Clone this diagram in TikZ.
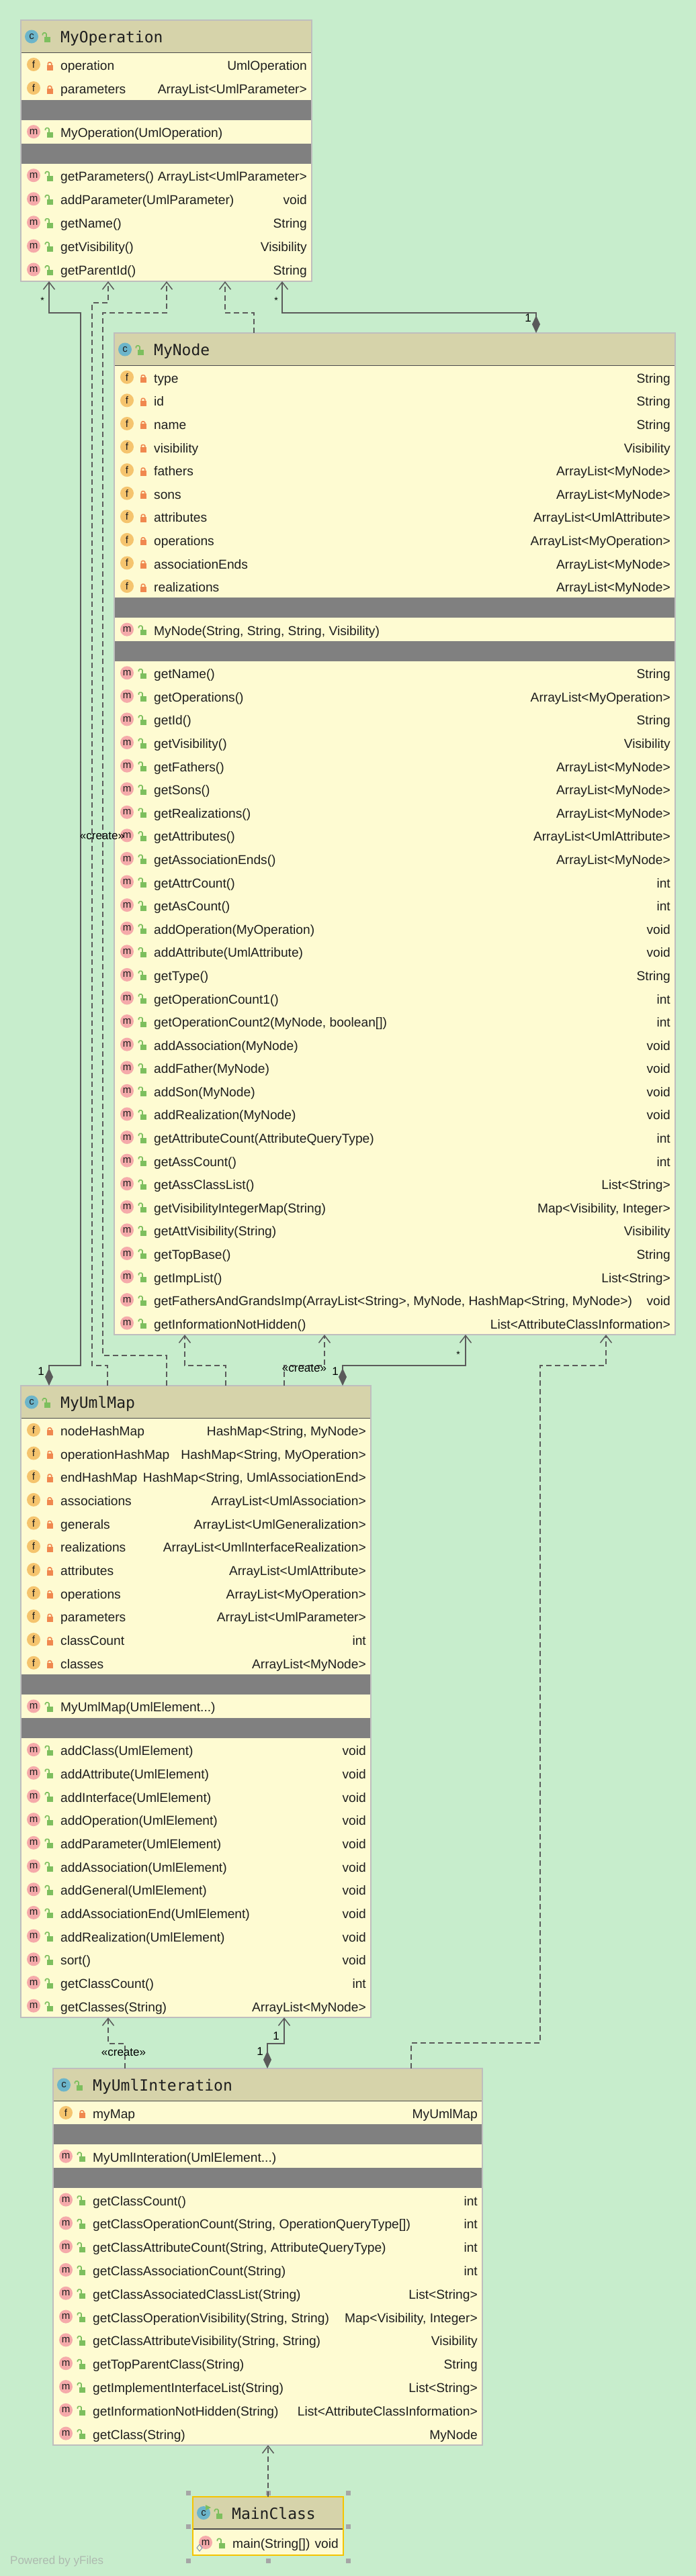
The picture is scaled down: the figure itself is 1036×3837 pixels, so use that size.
\documentclass[tikz,border=0pt]{standalone}
\usepackage{fontspec}
\setmainfont{Liberation Sans}
\newfontfamily\monofont{DejaVu Sans Mono}
\usepackage{tikz}
\usetikzlibrary{arrows.meta}
\definecolor{bg}{HTML}{C7EDCC}
\definecolor{clshead}{HTML}{D6D3AA}
\definecolor{clsbody}{HTML}{FEFBD2}
\definecolor{clsband}{HTML}{808080}
\definecolor{clsframe}{HTML}{BEBEBE}
\definecolor{clsrule}{HTML}{4A4A4A}
\definecolor{wire}{HTML}{5A5A5A}
\definecolor{fball}{HTML}{F5C46E}
\definecolor{mball}{HTML}{F5AAAA}
\definecolor{cball}{HTML}{6CB5CA}
\definecolor{lockred}{HTML}{F0884F}
\definecolor{lockgreen}{HTML}{7DBF5E}
\definecolor{ink}{HTML}{1E1E1E}
\definecolor{pick}{HTML}{F5C400}
\definecolor{grip}{HTML}{A6A6A6}
\definecolor{faint}{HTML}{AEBAB0}
\definecolor{staticc}{HTML}{8193B5}
\tikzset{
  classbox/.style={rectangle, fill=clsbody, inner sep=0, outer sep=0},
  frame/.style={draw=clsframe, line width=2pt},
  pickframe/.style={draw=pick, line width=2.5pt},
  clsline/.style={draw=clsrule, line width=1.5pt},
  band/.style={fill=clsband},
  clstitle/.style={inner sep=0, text=ink, font=\monofont\fontsize{23}{26}\selectfont},
  rowtxt/.style={inner sep=0, text=ink, font=\fontsize{19.2}{22}\selectfont},
  ball/.style={circle, inner sep=0, minimum size=20pt, text=ink, font=\fontsize{15}{15}\selectfont},
  dep/.style={draw=wire, line width=1.5pt, dash pattern=on 8pt off 5pt, arrows={-Straight Barb[length=11pt,width=17pt]}},
  comp/.style={draw=wire, line width=1.5pt, arrows={Diamond[length=26pt,width=12pt]-Straight Barb[length=11pt,width=17pt]}},
  elab/.style={inner sep=0, text=black, font=\fontsize{17}{17}\selectfont},
  star/.style={elab, font=\fontsize{14}{14}\selectfont},
  lockpriv/.pic={
    \draw[lockred, line width=1.6pt, rounded corners=1.5pt] (-2.7,1) -- (-2.7,-3) -- (2.7,-3) -- (2.7,1);
    \fill[lockred] (-4.5,0.5) rectangle (4.5,8.5);
  },
  lockpub/.pic={
    \draw[lockgreen, line width=1.6pt, rounded corners=1.5pt] (-1,1) -- (-1,-5.5) -- (-6.5,-5.5) -- (-6.5,-2);
    \fill[lockgreen] (-4,0.5) rectangle (5,8.5);
  },
  iconf/.pic={\node[ball, fill=fball] {f}; \pic at (24,0) {lockpriv};},
  iconm/.pic={\node[ball, fill=mball] {m}; \pic at (24,0) {lockpub};},
}
% one member line: name, left, right, row centre, icon, text, type
\newcommand\umlrow[7]{%
  \pgfmathsetmacro\rowy{#4}
  \pic at (#2+19,\rowy) {#5};
  \node[rowtxt, anchor=base west] (#1-a) at (#2+59,\rowy+8.5) {#6};
  \node[rowtxt, anchor=base east] (#1-b) at (#3-7,\rowy+8.5) {#7};
}
% one class: name, left, top, right, bottom, title, fields, constructor, methods
\newcommand\umlclass[9]{%
  \node[classbox, minimum width=#4-#2, minimum height=#5-#3, anchor=north west] (#1) at (#2,#3) {};
  \fill[clshead] (#2,#3) rectangle (#4,#3+48.5);
  \node[ball, fill=cball] (#1-c) at (#2+16,#3+24.5) {c};
  \pic at (#2+39,#3+24.5) {lockpub};
  \node[clstitle, anchor=base west] (#1-title) at (#2+59,#3+33) {#6};
  \foreach \itm [count=\idx] in {#7}{\xdef\nfld{\idx}}
  \foreach \itm [count=\idx] in {#9}{\xdef\nmth{\idx}}
  \pgfmathsetmacro\rowh{(#5-#3-108.5)/(\nfld+\nmth+1)}
  \pgfmathsetmacro\banda{#3+48.5+\nfld*\rowh}
  \pgfmathsetmacro\bandb{\banda+30+\rowh}
  \foreach \mname/\mtype [count=\idx from 0] in {#7}
    {\umlrow{#1-f\idx}{#2}{#4}{#3+48.5+(\idx+0.5)*\rowh}{iconf}{\mname}{\mtype}}
  \fill[band] (#2,\banda) rectangle (#4,\banda+30);
  \umlrow{#1-k}{#2}{#4}{\banda+30+0.5*\rowh}{iconm}{#8}{}
  \fill[band] (#2,\bandb) rectangle (#4,\bandb+30);
  \foreach \mname/\mtype [count=\idx from 0] in {#9}
    {\umlrow{#1-m\idx}{#2}{#4}{\bandb+30+(\idx+0.5)*\rowh}{iconm}{\mname}{\mtype}}
  \draw[clsline] (#2,#3+48.5) -- (#4,#3+48.5);
  \draw[frame] (#1.north west) rectangle (#1.south east);
}
\begin{document}
\begin{tikzpicture}[x=1pt,y=-1pt]
  \fill[bg] (0,0) rectangle (1036,3837);
  \useasboundingbox (0,0) rectangle (1036,3837);

  \umlclass{op}{31}{30}{464}{419}{MyOperation}
    {operation/UmlOperation, parameters/{ArrayList<UmlParameter>}}
    {MyOperation(UmlOperation)}
    {getParameters()/{ArrayList<UmlParameter>}, addParameter(UmlParameter)/void,
     getName()/String, getVisibility()/Visibility, getParentId()/String}

  \umlclass{mnode}{170}{496}{1005}{1988}{MyNode}
    {type/String, id/String, name/String, visibility/Visibility,
     fathers/{ArrayList<MyNode>}, sons/{ArrayList<MyNode>},
     attributes/{ArrayList<UmlAttribute>}, operations/{ArrayList<MyOperation>},
     associationEnds/{ArrayList<MyNode>}, realizations/{ArrayList<MyNode>}}
    {MyNode(String, String, String, Visibility)}
    {getName()/String, getOperations()/{ArrayList<MyOperation>}, getId()/String,
     getVisibility()/Visibility, getFathers()/{ArrayList<MyNode>},
     getSons()/{ArrayList<MyNode>}, getRealizations()/{ArrayList<MyNode>},
     getAttributes()/{ArrayList<UmlAttribute>}, getAssociationEnds()/{ArrayList<MyNode>},
     getAttrCount()/int, getAsCount()/int, addOperation(MyOperation)/void,
     addAttribute(UmlAttribute)/void, getType()/String, getOperationCount1()/int,
     {getOperationCount2(MyNode, boolean[])}/int, addAssociation(MyNode)/void,
     addFather(MyNode)/void, addSon(MyNode)/void, addRealization(MyNode)/void,
     getAttributeCount(AttributeQueryType)/int, getAssCount()/int,
     getAssClassList()/{List<String>}, getVisibilityIntegerMap(String)/{Map<Visibility, Integer>},
     getAttVisibility(String)/Visibility, getTopBase()/String, getImpList()/{List<String>},
     {getFathersAndGrandsImp(ArrayList<String>, MyNode, HashMap<String, MyNode>)}/void,
     getInformationNotHidden()/{List<AttributeClassInformation>}}

  \umlclass{umap}{31}{2064}{552}{3005}{MyUmlMap}
    {nodeHashMap/{HashMap<String, MyNode>}, operationHashMap/{HashMap<String, MyOperation>},
     endHashMap/{HashMap<String, UmlAssociationEnd>}, associations/{ArrayList<UmlAssociation>},
     generals/{ArrayList<UmlGeneralization>}, realizations/{ArrayList<UmlInterfaceRealization>},
     attributes/{ArrayList<UmlAttribute>}, operations/{ArrayList<MyOperation>},
     parameters/{ArrayList<UmlParameter>}, classCount/int, classes/{ArrayList<MyNode>}}
    {MyUmlMap(UmlElement...)}
    {addClass(UmlElement)/void, addAttribute(UmlElement)/void, addInterface(UmlElement)/void,
     addOperation(UmlElement)/void, addParameter(UmlElement)/void,
     addAssociation(UmlElement)/void, addGeneral(UmlElement)/void,
     addAssociationEnd(UmlElement)/void, addRealization(UmlElement)/void,
     sort()/void, getClassCount()/int, getClasses(String)/{ArrayList<MyNode>}}

  \umlclass{uint}{79}{3081}{718}{3642}{MyUmlInteration}
    {myMap/MyUmlMap}
    {MyUmlInteration(UmlElement...)}
    {getClassCount()/int, {getClassOperationCount(String, OperationQueryType[])}/int,
     {getClassAttributeCount(String, AttributeQueryType)}/int,
     getClassAssociationCount(String)/int, getClassAssociatedClassList(String)/{List<String>},
     {getClassOperationVisibility(String, String)}/{Map<Visibility, Integer>},
     {getClassAttributeVisibility(String, String)}/Visibility,
     getTopParentClass(String)/String, getImplementInterfaceList(String)/{List<String>},
     getInformationNotHidden(String)/{List<AttributeClassInformation>},
     getClass(String)/MyNode}

  \node[classbox, minimum width=224, minimum height=87, anchor=north west] (mainc) at (287,3719) {};
  \fill[clshead] (287,3719) rectangle (511,3767);
  \draw[clsline] (287,3767) -- (511,3767);
  \node[ball, fill=cball] (mainc-c) at (303,3743) {c};
  \fill[lockgreen] (306,3731) -- (314,3735) -- (306,3739) -- cycle;
  \pic at (326,3743) {lockpub};
  \node[clstitle, anchor=base west] (mainc-title) at (345,3752) {MainClass};
  \umlrow{mainc-m0}{287}{511}{3787}{iconm}{main(String[])}{void}
  \draw[staticc, line width=1pt] (297,3790) -- (301,3795) -- (297,3800) -- (293,3795) -- cycle;
  \draw[pickframe] (mainc.north west) rectangle (mainc.south east);
  \foreach \hx/\hy in {280/3713, 399/3713, 518/3713, 280/3763, 518/3763, 280/3814, 399/3814, 518/3814}
    \fill[grip] (\hx-3.5,\hy-3.5) rectangle (\hx+3.5,\hy+3.5);

  \draw[comp] (73,0 |- umap.north) -- (73,2034) -| (120,466) -| (73,0 |- op.south);
  \draw[dep] (160,0 |- umap.north) -- (160,2034) -| (137,451) -| (161,0 |- op.south);
  \draw[dep] (248,0 |- umap.north) -- (248,2019) -| (153,466) -| (248,0 |- op.south);
  \draw[dep] (378,0 |- mnode.north) -- (378,466) -| (335,0 |- op.south);
  \draw[comp] (798,0 |- mnode.north) -- (798,466) -| (420,0 |- op.south);
  \draw[dep] (336,0 |- umap.north) -- (336,2034) -| (275,0 |- mnode.south);
  \draw[dep] (423,0 |- umap.north) -- (423,2034) -| (483,0 |- mnode.south);
  \draw[comp] (510,0 |- umap.north) -- (510,2034) -| (693,0 |- mnode.south);
  \draw[dep] (612,0 |- uint.north) -- (612,3043) -| (804,2034) -| (902,0 |- mnode.south);
  \draw[dep] (186,0 |- uint.north) -- (186,3044) -| (161,0 |- umap.south);
  \draw[comp] (398,0 |- uint.north) -- (398,3044) -| (423,0 |- umap.south);
  \draw[dep] (mainc.north) -- (mainc.north |- uint.south);

  \node[star] (s1) at (63,448) {*};
  \node[star] (s2) at (411,448) {*};
  \node[star] (s3) at (682,2018) {*};
  \node[elab] (n1) at (786,474) {1};
  \node[elab] (n2) at (61,2043) {1};
  \node[elab] (n3) at (499,2043) {1};
  \node[elab] (n4) at (411,3033) {1};
  \node[elab] (n5) at (387,3056) {1};
  \node[elab] (c1) at (152,1245) {«create»};
  \node[elab] (c2) at (453,2038) {«create»};
  \node[elab] (c3) at (184,3057) {«create»};

  \node[anchor=base west, inner sep=0, text=faint, font=\fontsize{17}{17}\selectfont] (credit) at (15,3819) {Powered by yFiles};
\end{tikzpicture}
\end{document}
